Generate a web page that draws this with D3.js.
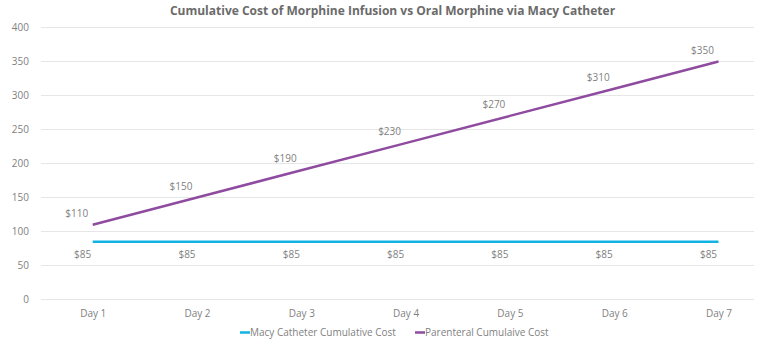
<!DOCTYPE html>
<html><head><meta charset="utf-8">
<script src="https://cdn.jsdelivr.net/npm/d3@7"></script>
<style>body{margin:0;background:#fff;}svg{display:block;font-family:"Open Sans",sans-serif;}</style>
</head><body>
<svg id="c" width="760" height="343"></svg>
<script>
const title = "Cumulative Cost of Morphine Infusion vs Oral Morphine via Macy Catheter";
const days = ["Day 1","Day 2","Day 3","Day 4","Day 5","Day 6","Day 7"];
const macyCost = [85,85,85,85,85,85,85];
const parenteralCost = [110,150,190,230,270,310,350];
const seriesNames = ["Macy Catheter Cumulative Cost","Parenteral Cumulaive Cost"];
const yTicks = [0,50,100,150,200,250,300,350,400];

(function(){
const svg = d3.select("#c");
const plotLeft = 41, plotRight = 754, plotTop = 27.5, plotBottom = 299.5;
const x = d3.scalePoint().domain(days).range([92.7, 718.5]);
const y = d3.scaleLinear().domain([0,400]).range([plotBottom, plotTop]);
const gray = "#7f7f7f";

svg.append("text").attr("x",392.5).attr("y",15).attr("text-anchor","middle")
  .attr("font-size","12px").attr("font-weight","bold").attr("fill","#6b6b6b").text(title);

svg.append("g").selectAll("line").data(yTicks).join("line")
  .attr("x1",plotLeft).attr("x2",plotRight).attr("y1",d=>y(d)).attr("y2",d=>y(d))
  .attr("stroke","#e6e6e6").attr("stroke-width",1);

const yAxis = d3.axisLeft(y).tickValues(yTicks).tickSize(0).tickPadding(0);
const gy = svg.append("g").attr("transform","translate(29,0)").call(yAxis);
gy.select(".domain").remove();
gy.selectAll("text").attr("fill",gray).attr("font-size","10px").attr("font-family","Open Sans");

const xAxis = d3.axisBottom(x).tickSize(0).tickPadding(0);
const gx = svg.append("g").attr("transform","translate(0,310)").call(xAxis);
gx.select(".domain").remove();
gx.selectAll("text").attr("fill",gray).attr("font-size","10px").attr("font-family","Open Sans");

const colors = ["#12b3e3","#8f4b9f"];
const line = d3.line().x((d,i)=>x(days[i])).y(d=>y(d));
[macyCost, parenteralCost].forEach((s,k)=>{
  svg.append("path").datum(s).attr("d",line).attr("fill","none")
    .attr("stroke",colors[k]).attr("stroke-width",2.5);
});

svg.append("g").selectAll("text").data(parenteralCost).join("text")
  .attr("x",(d,i)=>x(days[i])-16).attr("y",(d,i)=>y(d)-8)
  .attr("text-anchor","middle").attr("font-size","10px").attr("fill",gray)
  .text(d=>"$"+d);
svg.append("g").selectAll("text").data(macyCost).join("text")
  .attr("x",(d,i)=>x(days[i])-10).attr("y",(d,i)=>y(d)+16)
  .attr("text-anchor","middle").attr("font-size","10px").attr("fill",gray)
  .text(d=>"$"+d);

const legX = [240, 415];
seriesNames.forEach((n,k)=>{
  svg.append("line").attr("x1",legX[k]).attr("x2",legX[k]+10).attr("y1",332.5).attr("y2",332.5)
    .attr("stroke",colors[k]).attr("stroke-width",2.5);
  svg.append("text").attr("x",legX[k]+10).attr("y",336).attr("font-size","10px").attr("fill",gray).text(n);
});
})();
</script>
</body></html>
